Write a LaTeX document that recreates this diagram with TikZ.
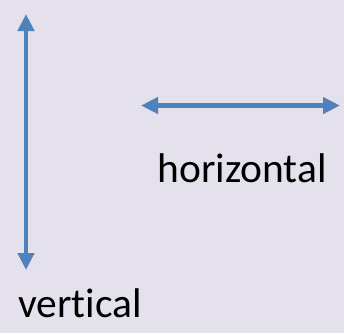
\documentclass[tikz,border=0pt]{standalone}
\usepackage{fontspec}
\setmainfont{Carlito}[Ligatures=NoCommon]
\usetikzlibrary{arrows.meta,positioning}
\definecolor{bgcol}{HTML}{E5E1EC}
\definecolor{arrblue}{HTML}{4F81BD}

\begin{document}
\begin{tikzpicture}[x=1pt, y=1pt,
  arr/.style={{Triangle[length=17pt, width=16pt]}-{Triangle[length=17pt, width=16pt]}, line width=4.5pt, draw=arrblue, fill=arrblue},
  lbl/.style={anchor=base, inner sep=0pt, font=\fontsize{41.5}{50}\selectfont}
]
\fill[bgcol] (0,0) rectangle (344,333);
\useasboundingbox (0,0) rectangle (344,333);
\coordinate (vtop) at (26,319);
\coordinate (vbot) at (26,63);
\coordinate (hleft) at (141,227.5);
\coordinate (hright) at (340,227.5);
\node[lbl] (horiz) at (242,151) {horizontal};
\node[lbl] (vert) at (80,16) {vertical};
\draw[arr] (vbot) -- (vtop);
\draw[arr] (hleft) -- (hright);
\end{tikzpicture}
\end{document}
